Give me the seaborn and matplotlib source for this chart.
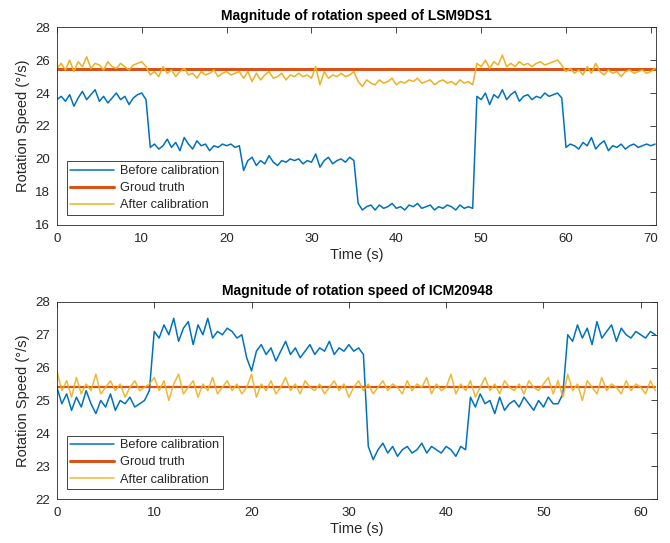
import numpy as np
import pandas as pd
import seaborn as sns
import matplotlib
matplotlib.use("Agg")
import matplotlib.pyplot as plt

STEP = 0.5

lsm_before = [
    23.6, 23.8, 23.5, 23.9, 23.2, 23.7, 24.1, 23.6, 23.9, 24.2, 23.5, 23.8, 23.4, 23.7, 24.0, 23.6, 23.8, 23.3, 23.7, 23.9, 24.0, 23.6,
    20.7, 20.9, 20.6, 20.8, 21.2, 20.7, 21.0, 20.5, 21.3, 20.9, 20.6, 21.1, 20.8, 20.9, 20.5, 20.8, 20.7, 20.9, 20.8, 20.9, 20.7, 20.8,
    19.3, 19.9, 20.1, 19.6, 19.9, 19.7, 20.2, 19.8, 19.6, 19.9, 19.8, 20.0, 19.9, 20.0, 19.7, 19.9, 19.8, 20.3, 19.5, 19.9, 20.1, 19.7,
    19.9, 20.0, 19.8, 20.1, 19.9,
    17.3, 16.9, 17.1, 17.2, 16.9, 17.2, 17.0, 17.1, 17.3, 17.0, 17.1, 16.9, 17.2, 17.1, 17.3, 17.0, 17.1, 17.2, 16.9, 17.1, 17.0, 17.2,
    17.1, 16.9, 17.2, 17.0, 17.1, 17.0,
    23.8, 23.6, 24.0, 23.3, 23.9, 23.7, 24.2, 23.6, 23.9, 24.1, 23.5, 23.8, 23.9, 23.6, 23.8, 23.7, 24.0, 23.8, 23.9, 24.0, 23.7,
    20.7, 20.9, 20.8, 20.6, 21.0, 20.8, 21.3, 20.6, 20.9, 21.1, 20.5, 20.8, 20.7, 20.9, 20.6, 20.8, 20.9, 20.7, 20.8, 20.9, 20.8, 20.9,
]
lsm_after = [
    25.5, 25.8, 25.4, 26.0, 25.3, 25.9, 25.6, 26.2, 25.5, 25.8, 25.7, 25.4, 25.9, 25.6, 25.5, 25.8, 25.6, 25.4, 25.7, 25.8, 25.9, 25.6,
    25.1, 25.3, 25.0, 25.6, 25.2, 25.4, 25.0, 25.3, 25.5, 25.1, 25.2, 24.9, 25.3, 25.1, 25.2, 25.4, 25.0, 25.2, 25.3, 25.1, 25.2, 25.3,
    24.9, 25.3, 24.7, 25.2, 24.8, 25.1, 25.3, 24.9, 25.0, 25.2, 24.8, 25.1, 25.0, 25.2, 25.0, 25.1, 24.9, 25.6, 24.5, 25.3, 24.9, 25.1,
    25.0, 25.2, 25.0, 25.1, 25.3,
    24.7, 24.4, 24.8, 24.6, 24.5, 24.8, 24.6, 24.7, 24.9, 24.5, 24.7, 24.6, 24.8, 24.7, 24.9, 24.6, 24.7, 24.8, 24.5, 24.7, 24.8, 24.6,
    24.7, 24.5, 24.8, 24.6, 24.7, 24.5,
    25.8, 25.6, 26.0, 25.5, 25.9, 25.7, 26.3, 25.6, 25.8, 25.6, 25.9, 25.7, 25.8, 25.6, 25.8, 25.9, 25.7, 25.8, 25.9, 26.0, 25.7,
    25.3, 25.5, 25.2, 25.4, 25.1, 25.6, 25.2, 25.8, 25.3, 25.1, 25.4, 25.2, 25.3, 25.0, 25.3, 25.4, 25.2, 25.3, 25.4, 25.2, 25.3, 25.5,
]
lsm_truth = 25.45

icm_before = [
    25.4, 24.9, 25.2, 24.7, 25.1, 24.8, 25.3, 24.9, 24.6, 25.0, 24.8, 25.2, 24.7, 25.0, 24.9, 25.1, 24.8, 24.9, 25.0, 25.3,
    27.1, 26.9, 27.3, 27.0, 27.5, 26.8, 27.2, 27.4, 26.7, 27.3, 27.0, 27.5, 26.9, 27.1, 27.0, 27.2, 27.1, 26.9, 27.0,
    26.3, 25.9, 26.5, 26.7, 26.4, 26.6, 26.2, 26.5, 26.8, 26.4, 26.6, 26.3, 26.5, 26.7, 26.4, 26.6, 26.5, 26.8, 26.4, 26.6,
    26.5, 26.7, 26.5, 26.6, 26.4,
    23.6, 23.2, 23.5, 23.7, 23.4, 23.6, 23.3, 23.5, 23.6, 23.4, 23.5, 23.7, 23.4, 23.6, 23.5, 23.4, 23.6, 23.5, 23.3, 23.6, 23.5,
    25.1, 24.8, 25.2, 24.9, 25.0, 24.6, 25.1, 24.7, 24.9, 25.0, 24.8, 25.1, 24.9, 24.7, 25.0, 24.8, 25.1, 24.9, 24.9, 25.2,
    27.0, 26.8, 27.3, 26.9, 27.2, 26.7, 27.4, 26.9, 27.1, 27.3, 26.8, 27.2, 27.0, 26.9, 27.1, 27.0, 26.9, 27.1, 27.0,
]
icm_after = [
    25.9, 25.3, 25.6, 25.1, 25.7, 25.2, 25.5, 25.3, 25.8, 25.2, 25.4, 25.6, 25.3, 25.5, 25.1, 25.4, 25.6, 25.3, 25.4, 25.5,
    25.7, 25.3, 25.6, 25.0, 25.5, 25.8, 25.2, 25.4, 25.6, 25.1, 25.5, 25.3, 25.7, 25.2, 25.4, 25.6, 25.3, 25.5, 25.2, 25.4,
    25.8, 25.1, 25.5, 25.3, 25.6, 25.2, 25.4, 25.7, 25.3, 25.5, 25.2, 25.6, 25.4, 25.3, 25.5, 25.2, 25.4, 25.6, 25.3, 25.5,
    25.1, 25.4, 25.6, 25.3, 25.5, 25.2, 25.4, 25.6, 25.3, 25.5, 25.4, 25.2, 25.6, 25.3, 25.5, 25.4, 25.7, 25.2, 25.5, 25.3,
    25.4, 25.8, 25.2, 25.5, 25.3, 25.6, 25.1, 25.4, 25.7, 25.3, 25.5, 25.2, 25.6, 25.4, 25.3, 25.5, 25.2, 25.6, 25.4, 25.3,
    25.5, 25.7, 25.2, 25.6, 25.1, 25.8, 25.3, 25.5, 25.0, 25.6, 25.4, 25.2, 25.7, 25.3, 25.5, 25.4, 25.2, 25.6, 25.3, 25.5,
    25.4, 25.2, 25.6, 25.3,
]
icm_truth = 25.42

labels = ["Before calibration", "Groud truth", "After calibration"]
colors = ["#0072BD", "#D95319", "#EDB120"]
AX_COLOR = "#262626"


def draw_panel(ax, before, after, truth, title, xlim, ylim, yticks, xticks,
               truth_lw=2.2, after_alpha=1.0):
    t = np.arange(len(before)) * STEP
    df = pd.DataFrame({"t": t, "before": before, "after": after,
                       "truth": [truth] * len(t)})

    sns.lineplot(data=df, x="t", y="before", ax=ax, color=colors[0], lw=1.1,
                 label=labels[0], estimator=None, sort=False)
    sns.lineplot(data=df, x="t", y="truth", ax=ax, color=colors[1], lw=truth_lw,
                 label=labels[1], estimator=None, sort=False)
    sns.lineplot(data=df, x="t", y="after", ax=ax, color=colors[2], lw=1.1,
                 label=labels[2], estimator=None, sort=False, alpha=after_alpha)

    ax.set_xlim(*xlim)
    ax.set_ylim(*ylim)
    ax.set_xticks(xticks)
    ax.set_yticks(yticks)
    ax.set_title(title, fontsize=10, fontweight="bold", color="black", pad=5)
    ax.set_xlabel("Time (s)", fontsize=10.5, color=AX_COLOR, labelpad=2)
    ax.set_ylabel("Rotation Speed (°/s)", fontsize=10.5, color=AX_COLOR, labelpad=4)
    ax.tick_params(direction="in", top=True, right=True, length=4, width=0.6,
                   labelsize=9.5, colors=AX_COLOR)
    ax.tick_params(axis="x", pad=6)
    ax.tick_params(axis="y", pad=5)
    for s in ax.spines.values():
        s.set_visible(True)
        s.set_color(AX_COLOR)
        s.set_linewidth(0.6)

    leg = ax.legend(loc="lower left", fontsize=9.2, frameon=True, fancybox=False,
                    borderaxespad=0.75, handlelength=3.4, labelspacing=0.4,
                    borderpad=0.3, handletextpad=0.5)
    leg.get_frame().set_edgecolor(AX_COLOR)
    leg.get_frame().set_linewidth(0.6)
    leg.get_frame().set_alpha(1)
    for txt in leg.get_texts():
        txt.set_color(AX_COLOR)
    leg.get_lines()[1].set_linewidth(2.2)


def main():
    sns.set_theme(style="white")
    plt.rcParams["font.family"] = ["Liberation Sans", "DejaVu Sans"]

    fig = plt.figure(figsize=(6.7, 5.43), dpi=100)
    ax1 = fig.add_axes([0.085, 0.586, 0.894, 0.364])
    ax2 = fig.add_axes([0.085, 0.081, 0.896, 0.363])

    draw_panel(ax1, lsm_before, lsm_after, lsm_truth,
               "Magnitude of rotation speed of LSM9DS1",
               (0, 70.6), (16, 28), range(16, 29, 2), range(0, 71, 10))
    draw_panel(ax2, icm_before, icm_after, icm_truth,
               "Magnitude of rotation speed of ICM20948",
               (0, 61.7), (22, 28), range(22, 29, 1), range(0, 61, 10),
               truth_lw=1.6, after_alpha=0.9)

    fig.savefig("out.png", dpi=100)


if __name__ == "__main__":
    main()
